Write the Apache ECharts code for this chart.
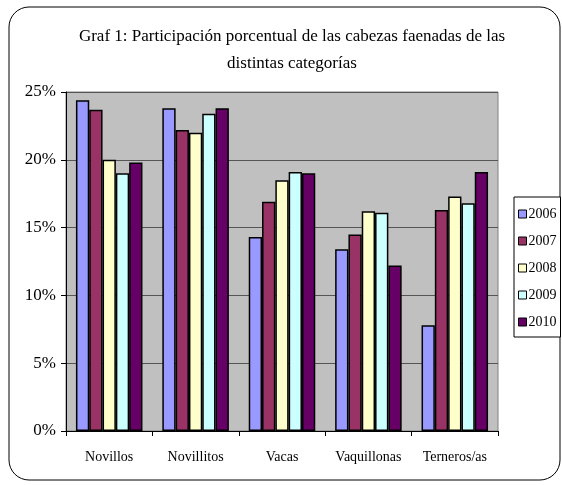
<!DOCTYPE html>
<html>
<head>
<meta charset="utf-8">
<script src="https://cdn.jsdelivr.net/npm/echarts@6/dist/echarts.min.js"></script>
<style>
  html, body { margin: 0; padding: 0; background: #fff; }
  #chart { width: 562px; height: 485px; }
</style>
</head>
<body>
<div id="chart"></div>
<script>
const categories = ['Novillos', 'Novillitos', 'Vacas', 'Vaquillonas', 'Terneros/as'];
const years = ['2006', '2007', '2008', '2009', '2010'];
const colors = ['#9999FF', '#993366', '#FFFFCC', '#CCFFFF', '#660066'];

// participación en %, por año
const v2006 = [24.4, 23.8, 14.3, 13.4, 7.8];
const v2007 = [23.7, 22.2, 16.9, 14.5, 16.3];
const v2008 = [20.0, 22.0, 18.5, 16.2, 17.3];
const v2009 = [19.0, 23.4, 19.1, 16.1, 16.8];
const v2010 = [19.8, 23.8, 19.0, 12.2, 19.1];
const yearValues = [v2006, v2007, v2008, v2009, v2010];

const serif = '"Liberation Serif", "DejaVu Serif", serif';

const chart = echarts.init(document.getElementById('chart'));

const series = years.map((y, i) => ({
  name: y,
  type: 'bar',
  data: yearValues[i],
  barGap: '0%',
  barCategoryGap: '23%',
  itemStyle: { color: colors[i], borderColor: '#000', borderWidth: 1.5 }
}));

chart.setOption({
  animation: false,
  textStyle: { fontFamily: serif },
  title: {
    text: 'Graf 1: Participación porcentual de las cabezas faenadas de las\ndistintas categorías',
    left: 287,
    textAlign: 'center',
    top: 18,
    textStyle: { fontFamily: serif, fontSize: 17, fontWeight: 'normal', color: '#000', lineHeight: 27 }
  },
  graphic: [{
    type: 'rect',
    shape: { x: 9, y: 7, width: 551, height: 473, r: 20 },
    style: { fill: 'none', stroke: '#000', lineWidth: 1 },
    silent: true
  }],
  legend: {
    orient: 'vertical',
    left: 514,
    top: 197,
    padding: [9, 4, 7, 4],
    itemWidth: 8,
    itemHeight: 8,
    itemGap: 11,
    icon: 'rect',
    backgroundColor: '#fff',
    borderColor: '#000',
    borderWidth: 1,
    itemStyle: { borderColor: '#000', borderWidth: 1 },
    textStyle: { fontFamily: serif, fontSize: 14, lineHeight: 16, color: '#000', padding: [0, 0, 0, -3] },
    data: years
  },
  grid: {
    left: 66,
    top: 92,
    right: 64,
    bottom: 54,
    show: true,
    backgroundColor: '#C0C0C0',
    borderColor: '#808080',
    borderWidth: 1
  },
  xAxis: {
    type: 'category',
    data: categories,
    axisLine: { lineStyle: { color: '#000', width: 1 } },
    axisTick: { show: true, length: 5, lineStyle: { color: '#000' } },
    axisLabel: { fontFamily: serif, fontSize: 14, color: '#000', margin: 19 }
  },
  yAxis: {
    type: 'value',
    min: 0,
    max: 25,
    interval: 5,
    axisLine: { show: true, lineStyle: { color: '#000', width: 1 } },
    axisTick: { show: true, length: 5, lineStyle: { color: '#000' } },
    axisLabel: { formatter: '{value}%', fontFamily: serif, fontSize: 17, color: '#000', margin: 10 },
    splitLine: { lineStyle: { color: '#555', width: 1 } }
  },
  series: series
});
</script>
</body>
</html>
